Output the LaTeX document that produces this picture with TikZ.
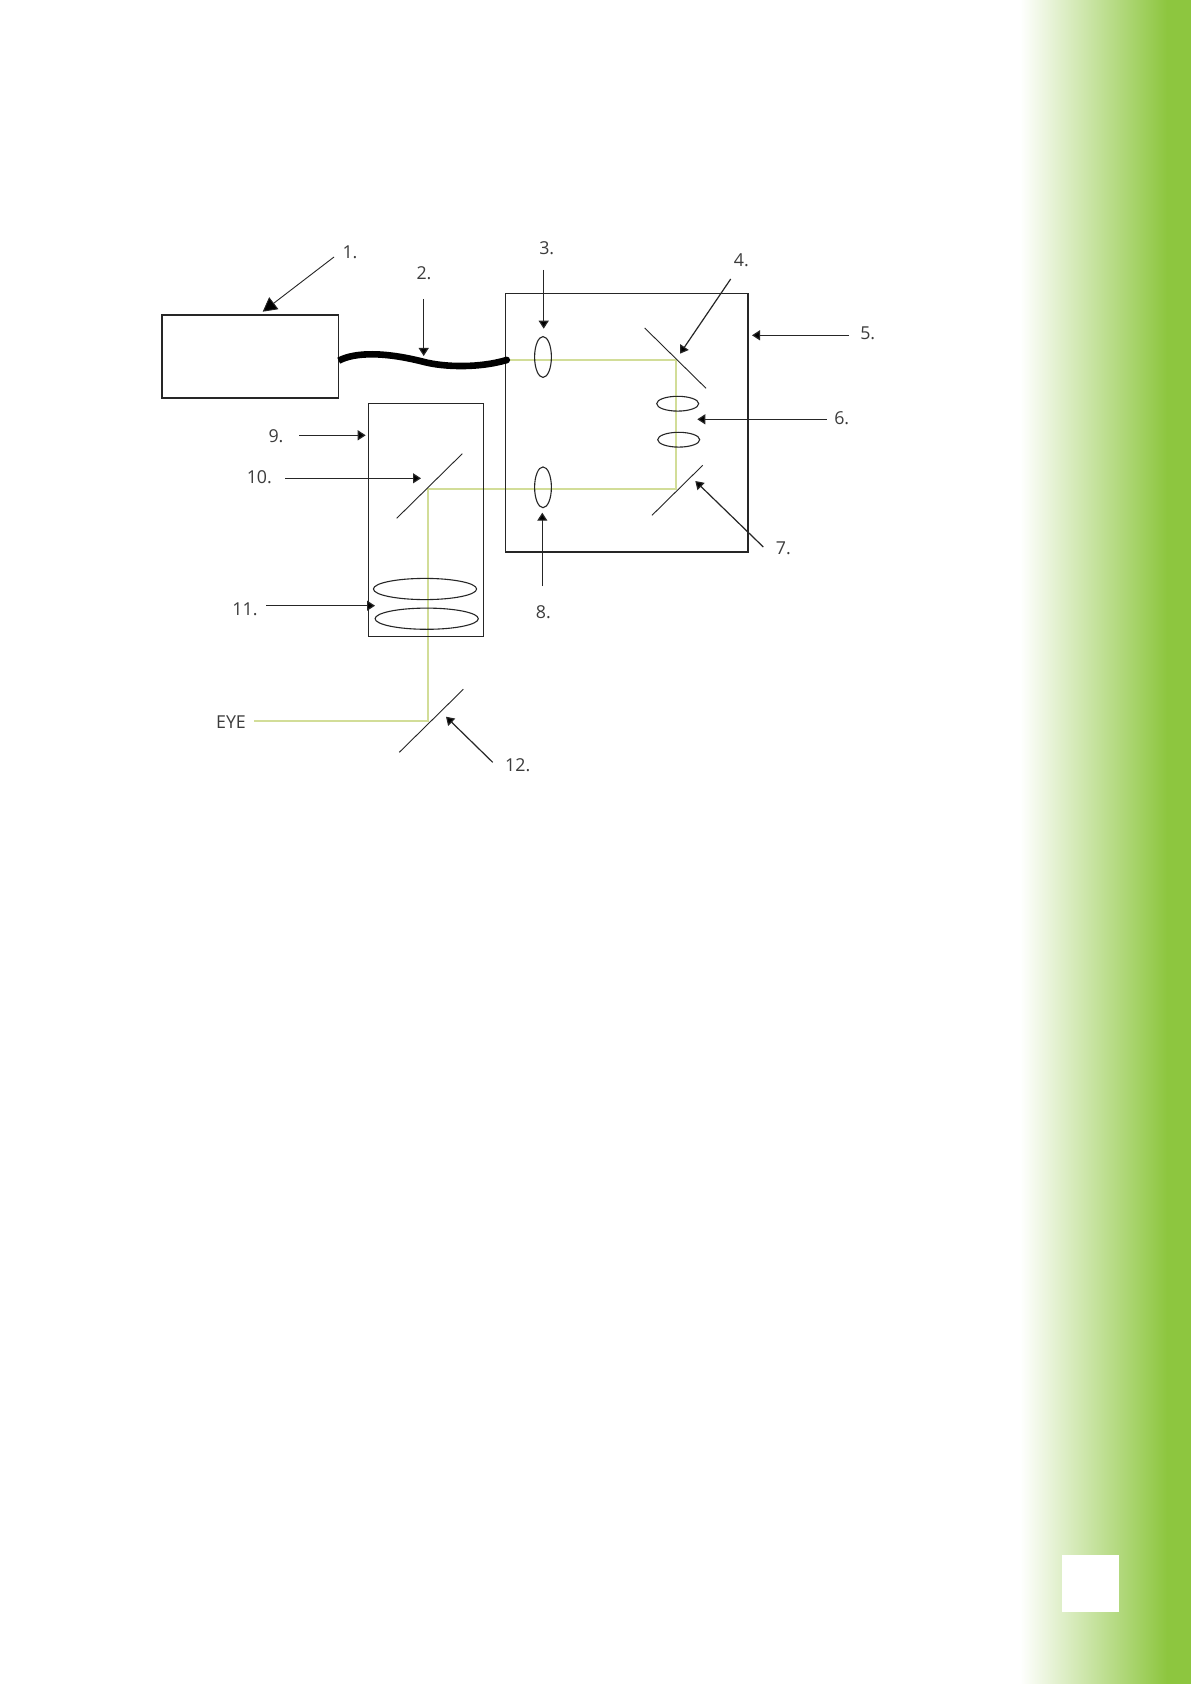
\documentclass[tikz,border=0pt]{standalone}
\usepackage{fontspec}
\setmainfont{Open Sans}
\usetikzlibrary{shapes.geometric,arrows.meta}
\definecolor{leaf}{HTML}{8DC63F}
\definecolor{raycol}{HTML}{D2DD98}
\definecolor{labelcol}{HTML}{3C3C3C}
\tikzset{
  boxst/.style={draw=black!85,line width=0.7pt,rectangle,inner sep=0pt},
  lensv/.style={draw=black!85,line width=0.55pt,ellipse,inner sep=0pt,minimum width=8.4pt,minimum height=20.4pt},
  lensh/.style={draw=black!85,line width=0.55pt,ellipse,inner sep=0pt,minimum width=21pt,minimum height=7.4pt},
  lensw/.style={draw=black!85,line width=0.55pt,ellipse,inner sep=0pt,minimum width=51.6pt,minimum height=10.6pt},
  lab/.style={text=labelcol,font=\fontsize{8.9}{10}\selectfont,inner sep=0pt},
  mirror/.style={draw=black!85,line width=0.45pt},
  ray/.style={draw=raycol,line width=1.1pt},
  cable/.style={draw=black,line width=3.3pt},
  pointer/.style={draw=black!85,line width=0.6pt,-{Triangle[length=4pt,width=5pt,fill=black]}},
  bigpointer/.style={draw=black!85,line width=0.45pt,-{Triangle[length=7pt,width=7.5pt,fill=black]}},
}
\begin{document}
\begin{tikzpicture}[x=0.5pt,y=-0.5pt]
\useasboundingbox (0,0) rectangle (1191,1684);
\fill[white] (0,0) rectangle (1191,1684);
% side band
\shade[left color=white,right color=leaf] (1020,0) rectangle (1167,1684);
\fill[leaf] (1166.5,0) rectangle (1191,1684);
\node[fill=white,rectangle,inner sep=0pt,minimum width=28.5pt,minimum height=28.4pt] (pagebox) at (1090.5,1583.4) {};

% ray points
\coordinate (r0) at (506,359.7);
\coordinate (r1) at (675.7,359.7);
\coordinate (r2) at (675.7,489.3);
\coordinate (r3) at (428,489.3);
\coordinate (r4) at (428,721.3);
\coordinate (r5) at (254,721.3);
\draw[ray] (r0) -- (r1) -- (r2) -- (r3) -- (r4) -- (r5);

% housings
\node[boxst,minimum width=88.35pt,minimum height=41.5pt] (source) at (250.4,356.5) {};
\node[boxst,minimum width=121.15pt,minimum height=129.35pt] (mainbox) at (626.85,422.65) {};
\node[boxst,minimum width=57.5pt,minimum height=116.5pt] (eyepiece) at (426.2,519.8) {};

% lenses
\node[lensv] (lensA) at (543,357) {};
\node[lensv] (lensB) at (543,487.3) {};
\node[lensh] (lensC) at (677.7,403.7) {};
\node[lensh] (lensD) at (678.7,439.7) {};
\node[lensw] (lensE) at (425,589) {};
\node[lensw] (lensF) at (426.7,618.7) {};

% mirrors
\coordinate (m4a) at (644.7,328);  \coordinate (m4b) at (706,388.3);
\coordinate (m7a) at (702.7,465.3); \coordinate (m7b) at (652,515.3);
\coordinate (m10a) at (462.3,453.7); \coordinate (m10b) at (396.7,518.3);
\coordinate (m12a) at (463.3,689.3); \coordinate (m12b) at (399.3,752.3);
\draw[mirror] (m4a) -- (m4b);
\draw[mirror] (m7a) -- (m7b);
\draw[mirror] (m10a) -- (m10b);
\draw[mirror] (m12a) -- (m12b);

% cable
\coordinate (c0) at (338.7,360.7);
\coordinate (c1) at (506.7,360);
\draw[cable] (c0) .. controls (355,352) and (385,352) .. (423,361.7)
  .. controls (445,367.5) and (480,368) .. (c1);
\fill[black] (c1) circle (3.4);

% labels
\node[lab] (l1) at (350,252) {1.};
\node[lab] (l2) at (424,272.7) {2.};
\node[lab] (l3) at (546.7,248.3) {3.};
\node[lab] (l4) at (741.3,260.7) {4.};
\node[lab] (l5) at (867.7,333.3) {5.};
\node[lab] (l6) at (841.7,418.5) {6.};
\node[lab] (l7) at (783.3,548.3) {7.};
\node[lab] (l8) at (543.3,612) {8.};
\node[lab] (l9) at (276,436) {9.};
\node[lab] (l10) at (259.3,476.7) {10.};
\node[lab] (l11) at (245,609) {11.};
\node[lab] (l12) at (517.7,765.3) {12.};
\node[lab] (eye) at (231,721.7) {EYE};

% pointer ends
\coordinate (a1s) at (334,257);   \coordinate (a1e) at (262.7,311.7);
\coordinate (a2s) at (423.7,299); \coordinate (a2e) at (423.7,356);
\coordinate (a3s) at (543.7,270); \coordinate (a3e) at (543.7,328.7);
\coordinate (a4s) at (730.7,279); \coordinate (a4e) at (680,353.7);
\coordinate (a5s) at (849,335.3); \coordinate (a5e) at (752,335.3);
\coordinate (a6s) at (826.7,419.3); \coordinate (a6e) at (697.3,419.3);
\coordinate (a7s) at (763.3,547); \coordinate (a7e) at (695.3,481);
\coordinate (a8s) at (542.3,586); \coordinate (a8e) at (542.3,512.7);
\coordinate (a9s) at (299.3,435.3); \coordinate (a9e) at (365.7,435.3);
\coordinate (a10s) at (285,478.3); \coordinate (a10e) at (421,478.3);
\coordinate (a11s) at (266,605.7); \coordinate (a11e) at (375,605.7);
\coordinate (a12s) at (492.7,762.3); \coordinate (a12e) at (446,716.7);

\draw[bigpointer] (a1s) -- (a1e);
\draw[pointer] (a2s) -- (a2e);
\draw[pointer] (a3s) -- (a3e);
\draw[pointer] (a4s) -- (a4e);
\draw[pointer] (a5s) -- (a5e);
\draw[pointer] (a6s) -- (a6e);
\draw[pointer] (a7s) -- (a7e);
\draw[pointer] (a8s) -- (a8e);
\draw[pointer] (a9s) -- (a9e);
\draw[pointer] (a10s) -- (a10e);
\draw[pointer] (a11s) -- (a11e);
\draw[pointer] (a12s) -- (a12e);
\end{tikzpicture}
\end{document}
